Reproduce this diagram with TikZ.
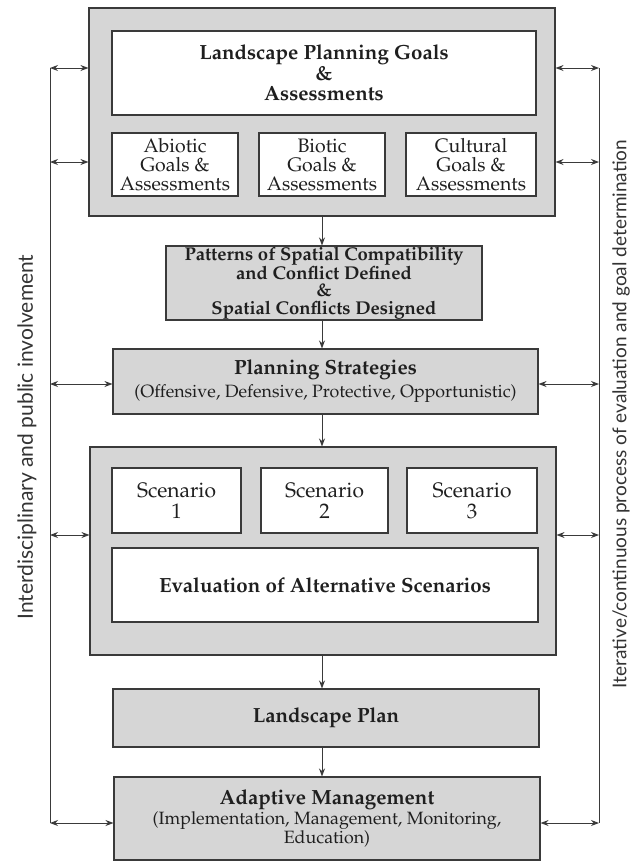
\documentclass[tikz,border=0pt]{standalone}
\usepackage[T1]{fontenc}
\usepackage{fontspec}
\newfontfamily\sidefont{Lato}
\newcommand\pal{\fontencoding{T1}\fontfamily{ppl}\selectfont}
\usetikzlibrary{arrows.meta}
\definecolor{stipple}{HTML}{D6D6D6}
\definecolor{ink}{HTML}{3A3A3A}
\tikzset{
  box/.style={draw=ink, line width=1.1pt, rectangle, inner sep=0pt, align=center, text=black!88},
  graybox/.style={box, fill=stipple},
  whitebox/.style={box, fill=white},
  flow/.style={draw=ink, line width=0.9pt, -{Stealth[length=8pt,width=6pt]}},
  link/.style={draw=ink, line width=0.9pt, {Stealth[length=8pt,width=6pt]}-{Stealth[length=8pt,width=6pt]}},
  rail/.style={draw=ink, line width=0.9pt},
  head/.style={font=\pal\bfseries\fontsize{20.5}{20.5}\selectfont},
  body/.style={font=\pal\fontsize{19.5}{19}\selectfont},
  scenario/.style={font=\pal\fontsize{21}{21}\selectfont},
  sidelabel/.style={rotate=90, text=black!80}
}
\newcommand\hd{\pal\bfseries\fontsize{20.5}{22}\selectfont}
\newcommand\sub{\pal\fontsize{17.8}{17}\selectfont}
\begin{document}
\begin{tikzpicture}[x=1pt,y=-1pt]
\useasboundingbox (0,0) rectangle (631,863);

% goals and assessments block
\node[graybox, minimum width=466, minimum height=208] (top) at (322,112) {};
\node[whitebox, head, minimum width=424, minimum height=84] (goals) at (324,73)
  {Landscape Planning Goals\\\&\\Assessments};
\node[whitebox, body, minimum width=126, minimum height=63] (abiotic) at (175,164.5)
  {Abiotic\\Goals \&\\Assessments};
\node[whitebox, body, minimum width=126, minimum height=63] (biotic) at (322,164.5)
  {Biotic\\Goals \&\\Assessments};
\node[whitebox, body, minimum width=130, minimum height=63] (cultural) at (471,164.5)
  {Cultural\\Goals \&\\Assessments};

% spatial patterns
\node[graybox, font=\pal\bfseries\fontsize{18.5}{17.5}\selectfont, minimum width=316, minimum height=74] (patterns) at (324,283)
  {Patterns of Spatial Compatibility\\and Conflict Defined\\\&\\Spatial Conflicts Designed};

% strategies
\node[graybox, minimum width=425, minimum height=65] (strategies) at (325.5,381.5)
  {{\hd Planning Strategies}\\[4pt]
   {\sub (Offensive, Defensive, Protective, Opportunistic)}};

% scenarios block
\node[graybox, minimum width=466, minimum height=208] (scen) at (323,551) {};
\node[whitebox, scenario, minimum width=129, minimum height=65] (s1) at (176.5,500.5) {Scenario\\1};
\node[whitebox, scenario, minimum width=127, minimum height=65] (s2) at (324.5,500.5) {Scenario\\2};
\node[whitebox, scenario, minimum width=130, minimum height=65] (s3) at (472,500.5) {Scenario\\3};
\node[whitebox, head, minimum width=426, minimum height=74] (eval) at (325,585)
  {Evaluation of Alternative Scenarios};

% plan and management
\node[graybox, head, minimum width=426, minimum height=58] (plan) at (326,718) {Landscape Plan};
\node[graybox, minimum width=426, minimum height=83] (adapt) at (327,818.5)
  {{\hd Adaptive Management}\\[1pt]
   {\sub (Implementation, Management, Monitoring,}\\
   {\sub Education)}};

% main flow
\draw[flow] (top.south) -- (top.south |- patterns.north);
\draw[flow] (top.south |- patterns.south) -- (top.south |- strategies.north);
\draw[flow] (top.south |- strategies.south) -- (top.south |- scen.north);
\draw[flow] (top.south |- scen.south) -- (top.south |- plan.north);
\draw[flow] (top.south |- plan.south) -- (top.south |- adapt.north);

% involvement rail (left)
\coordinate (la) at (50,68);
\coordinate (lb) at (50,162);
\coordinate (lc) at (50,384);
\coordinate (ld) at (50,535);
\coordinate (le) at (50,823);
\draw[rail] (la) -- (le);
\draw[link] (la) -- (top.west |- la);
\draw[link] (lb) -- (top.west |- lb);
\draw[link] (lc) -- (strategies.west |- lc);
\draw[link] (ld) -- (scen.west |- ld);
\draw[link] (le) -- (adapt.west |- le);

% evaluation rail (right)
\coordinate (ra) at (599,68);
\coordinate (rb) at (599,162);
\coordinate (rc) at (599,384);
\coordinate (rd) at (599,535);
\coordinate (re) at (599,823);
\draw[rail] (ra) -- (re);
\draw[link] (top.east |- ra) -- (ra);
\draw[link] (top.east |- rb) -- (rb);
\draw[link] (strategies.east |- rc) -- (rc);
\draw[link] (scen.east |- rd) -- (rd);
\draw[link] (adapt.east |- re) -- (re);

% rail labels
\node[sidelabel, font=\sidefont\fontsize{21}{24}\selectfont] (leftlabel) at (27,437)
  {Interdisciplinary and public involvement};
\node[sidelabel, font=\sidefont\fontsize{19}{22}\selectfont] (rightlabel) at (621,414)
  {Iterative/continuous process of evaluation and goal determination};
\end{tikzpicture}
\end{document}
